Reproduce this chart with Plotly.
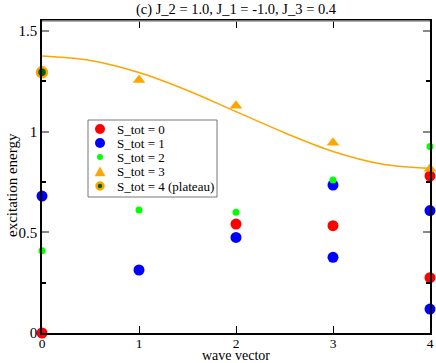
import plotly.graph_objects as go

# Data
s0_x = [0, 2, 3, 4, 4]
s0_y = [0.0, 0.541, 0.533, 0.78, 0.275]
s1_x = [0, 1, 2, 3, 3, 4, 4]
s1_y = [0.68, 0.313, 0.475, 0.735, 0.376, 0.608, 0.119]
s2_x = [0, 1, 2, 3, 4]
s2_y = [0.409, 0.611, 0.60, 0.76, 0.927]
s3_x = [1, 2, 3, 4]
s3_y = [1.257, 1.129, 0.945, 0.816]
s4_x = [0]
s4_y = [1.295]
curve_x = [0, 0.5, 1, 1.5, 2, 2.5, 3, 3.5, 4]
curve_y = [1.376, 1.354, 1.294, 1.205, 1.100, 0.995, 0.902, 0.840, 0.818]

x_ticks = [0, 1, 2, 3, 4]
y_ticks = [0, 0.5, 1, 1.5]
y_tick_text = ["0", "0.5", "1", "1.5"]
legend_names = ["S_tot = 0", "S_tot = 1", "S_tot = 2", "S_tot = 3", "S_tot = 4 (plateau)"]

FONT = "Liberation Serif, Times New Roman, Times, serif"

fig = go.Figure()
fig.add_trace(go.Scatter(x=curve_x, y=curve_y, mode="lines", line=dict(color="#FFA500", width=1.5, shape="spline"),
                         showlegend=False, hoverinfo="skip", cliponaxis=False))
fig.add_trace(go.Scatter(x=s0_x, y=s0_y, mode="markers", name=legend_names[0], showlegend=False,
                         marker=dict(color="#FF0000", size=11, symbol="circle"), cliponaxis=False))
fig.add_trace(go.Scatter(x=s1_x, y=s1_y, mode="markers", name=legend_names[1], showlegend=False,
                         marker=dict(color="#0000FF", size=11, symbol="circle"), cliponaxis=False))
fig.add_trace(go.Scatter(x=s2_x, y=s2_y, mode="markers", name=legend_names[2], showlegend=False,
                         marker=dict(color="#00FF00", size=7, symbol="circle"), cliponaxis=False))
fig.add_trace(go.Scatter(x=s3_x, y=s3_y, mode="markers", name=legend_names[3], showlegend=False,
                         marker=dict(color="#FFA500", size=11, symbol="triangle-up"), cliponaxis=False))
fig.add_trace(go.Scatter(x=s4_x, y=s4_y, mode="markers", name=legend_names[4], showlegend=False,
                         marker=dict(color="#006400", size=10, symbol="circle",
                                     line=dict(color="#FFA500", width=2.5)), cliponaxis=False))

# top frame (light grey)
fig.add_shape(type="line", xref="paper", yref="paper", x0=0, x1=1, y0=1, y1=1,
              line=dict(color="#999999", width=1.5))

# --- hand-built legend box (to match the compact original spacing) ---
L, W, B, H = 42, 388, 333, 312
def px2x(px): return (px - L) / W
def py2y(py): return (B - py) / H

fig.add_shape(type="rect", xref="paper", yref="paper",
              x0=px2x(88), x1=px2x(217), y0=py2y(197), y1=py2y(120),
              line=dict(color="#777777", width=1), fillcolor="white", layer="above")
row_py = [129, 143, 157, 172, 186]
mx = px2x(100)
def circle(yc, d, color, line_color=None, lw=0):
    fig.add_shape(type="circle", xref="paper", yref="paper",
                  xsizemode="pixel", ysizemode="pixel", xanchor=mx, yanchor=yc,
                  x0=-d / 2, x1=d / 2, y0=-d / 2, y1=d / 2,
                  fillcolor=color, line=dict(color=line_color or color, width=lw), layer="above")
ys = [py2y(p) for p in row_py]
circle(ys[0], 10, "#FF0000")
circle(ys[1], 10, "#0000FF")
circle(ys[2], 6, "#00FF00")
fig.add_shape(type="path", xref="paper", yref="paper",
              xsizemode="pixel", ysizemode="pixel", xanchor=mx, yanchor=ys[3],
              path="M -5,-4 L 5,-4 L 0,5 Z", fillcolor="#FFA500",
              line=dict(color="#FFA500", width=0.5), layer="above")
circle(ys[4], 7, "#006400", "#FFA500", 2.5)
for name, yv in zip(legend_names, ys):
    fig.add_annotation(text=name, xref="paper", yref="paper", x=px2x(115), y=yv,
                       xanchor="left", yanchor="middle", showarrow=False,
                       font=dict(family=FONT, size=13, color="black"))

# axis titles
fig.add_annotation(text="wave vector", xref="paper", yref="paper", x=0.5, y=py2y(355.5),
                   xanchor="center", yanchor="middle", showarrow=False,
                   font=dict(family=FONT, size=14, color="black"))
fig.add_annotation(text="excitation energy", xref="paper", yref="paper", x=px2x(12), y=py2y(185),
                   xanchor="center", yanchor="middle", showarrow=False, textangle=-90,
                   font=dict(family=FONT, size=15, color="black"))

fig.update_layout(
    width=436, height=363,
    margin=dict(l=L, r=436 - L - W, t=B - H, b=363 - B, autoexpand=False),
    paper_bgcolor="white", plot_bgcolor="white",
    font=dict(family=FONT, size=15, color="black"),
    title=dict(text="(c) J_2 = 1.0, J_1 = -1.0, J_3 = 0.4", xref="paper", x=0.5, xanchor="center",
               yref="container", y=1 - 9 / 363, yanchor="middle", font=dict(family=FONT, size=14.5)),
    showlegend=False,
    xaxis=dict(range=[0, 4], tickvals=x_ticks, ticktext=[str(v) for v in x_ticks],
               ticks="inside", ticklen=7, tickcolor="black", tickwidth=1,
               showline=True, linecolor="black", linewidth=1.5, mirror="ticks",
               showgrid=False, zeroline=False, automargin=False, ticklabelstandoff=-3,
               tickfont=dict(family=FONT, size=13.5)),
    yaxis=dict(range=[0, 1.55], tickvals=y_ticks, ticktext=y_tick_text,
               ticks="inside", ticklen=7, tickcolor="#888888", tickwidth=1.5,
               showline=True, linecolor="black", linewidth=1.5, mirror="ticks",
               showgrid=False, zeroline=False, automargin=False,
               minor=dict(tickvals=[0.25, 0.75, 1.25], ticks="inside", ticklen=4, tickcolor="black"),
               tickfont=dict(family=FONT, size=15)),
)

fig.write_html("out.html", config={"displayModeBar": False},
               post_script="document.body.style.margin='0';document.body.style.overflow='hidden';")
